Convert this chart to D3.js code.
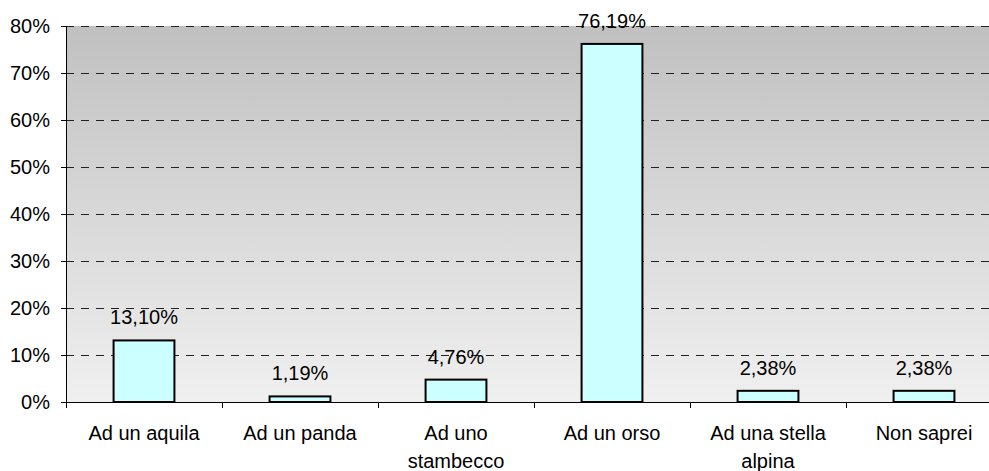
<!DOCTYPE html>
<html>
<head>
<meta charset="utf-8">
<script src="https://cdn.jsdelivr.net/npm/d3@7"></script>
<style>
  body { margin: 0; background: #fff; }
  svg text { font-family: "Liberation Sans", Arial, sans-serif; fill: #000; }
</style>
</head>
<body>
<svg id="chart" width="989" height="471"></svg>
<script>
// categories (line breaks where the original label wraps)
var categories = ["Ad un aquila", "Ad un panda", "Ad uno\nstambecco", "Ad un orso", "Ad una stella\nalpina", "Non saprei"];
var values = [13.10, 1.19, 4.76, 76.19, 2.38, 2.38];
var yTicks = [0, 10, 20, 30, 40, 50, 60, 70, 80];

var DrawChart = function(){
  let svg = d3.select("#chart");
  let margin = { top: 26, left: 66 };
  let plotWidth = 936;   // runs past the right edge, like the original crop
  let plotHeight = 376;
  let fontSize = "20px";

  let yScale = d3.scaleLinear()
      .domain([0, 80])
      .range([plotHeight, 0]);

  let xScale = d3.scaleBand()
      .domain(categories)
      .range([0, plotWidth])
      .padding(0);

  // background gradient
  let defs = svg.append("defs");
  let grad = defs.append("linearGradient")
      .attr("id", "bg").attr("x1", 0).attr("y1", 0).attr("x2", 0).attr("y2", 1);
  grad.append("stop").attr("offset", "0%").attr("stop-color", "#c0c0c0");
  grad.append("stop").attr("offset", "100%").attr("stop-color", "#f0f0f0");

  let plot = svg.append("g").attr("id", "plot")
      .attr("transform", "translate(" + margin.left + "," + margin.top + ")");

  plot.append("rect")
      .attr("width", plotWidth)
      .attr("height", plotHeight)
      .attr("fill", "url(#bg)");

  // dashed grid lines
  plot.selectAll("line.grid")
      .data(yTicks.filter(d => d > 0))
      .enter().append("line")
      .attr("class", "grid")
      .attr("x1", 0).attr("x2", plotWidth)
      .attr("y1", d => Math.round(yScale(d)) + 0.5)
      .attr("y2", d => Math.round(yScale(d)) + 0.5)
      .attr("stroke", "#222")
      .attr("stroke-width", 1)
      .attr("stroke-dasharray", "8,7");

  // bars
  let barW = xScale.bandwidth() * 0.39;
  plot.selectAll("rect.bar")
      .data(values)
      .enter().append("rect")
      .attr("class", "bar")
      .attr("x", (d, i) => xScale(categories[i]) + xScale.bandwidth() / 2 - barW / 2)
      .attr("y", d => yScale(d))
      .attr("width", barW)
      .attr("height", d => plotHeight - yScale(d))
      .attr("fill", "#ccffff")
      .attr("stroke", "#000")
      .attr("stroke-width", 2);

  // value labels
  plot.selectAll("text.val")
      .data(values)
      .enter().append("text")
      .attr("class", "val")
      .attr("x", (d, i) => xScale(categories[i]) + xScale.bandwidth() / 2)
      .attr("y", d => yScale(d) - 16)
      .attr("text-anchor", "middle")
      .style("font-size", fontSize)
      .text(d => d.toFixed(2).replace(".", ",") + "%");

  // y axis
  let yAxis = d3.axisLeft(yScale)
      .tickValues(yTicks)
      .tickSize(5)
      .tickPadding(11)
      .tickFormat(d => d + "%");
  let yGroup = plot.append("g").attr("id", "y-axis").call(yAxis);
  yGroup.select(".domain").attr("stroke", "#000").attr("d", "M0.5,0V" + plotHeight);
  yGroup.selectAll(".tick line").attr("stroke", "#000");
  yGroup.selectAll(".tick text")
      .style("font-size", fontSize)
      .style("font-family", "Liberation Sans, Arial, sans-serif");

  // x axis line and boundary ticks
  let xGroup = plot.append("g").attr("id", "x-axis")
      .attr("transform", "translate(0," + plotHeight + ")");
  xGroup.append("line")
      .attr("x1", 0).attr("x2", plotWidth)
      .attr("y1", 0.5).attr("y2", 0.5)
      .attr("stroke", "#000");
  let bounds = categories.map(c => xScale(c)).concat([plotWidth]);
  xGroup.selectAll("line.tick")
      .data(bounds)
      .enter().append("line")
      .attr("class", "tick")
      .attr("x1", d => Math.round(d) + 0.5).attr("x2", d => Math.round(d) + 0.5)
      .attr("y1", 0).attr("y2", 6)
      .attr("stroke", "#000");

  // category labels
  let labels = xGroup.selectAll("text.cat")
      .data(categories)
      .enter().append("text")
      .attr("class", "cat")
      .attr("text-anchor", "middle")
      .style("font-size", fontSize);
  labels.each(function(c){
    let t = d3.select(this);
    c.split("\n").forEach(function(line, j){
      t.append("tspan")
        .attr("x", xScale(c) + xScale.bandwidth() / 2)
        .attr("y", 38 + j * 28)
        .text(line);
    });
  });
};

DrawChart();
</script>
</body>
</html>
